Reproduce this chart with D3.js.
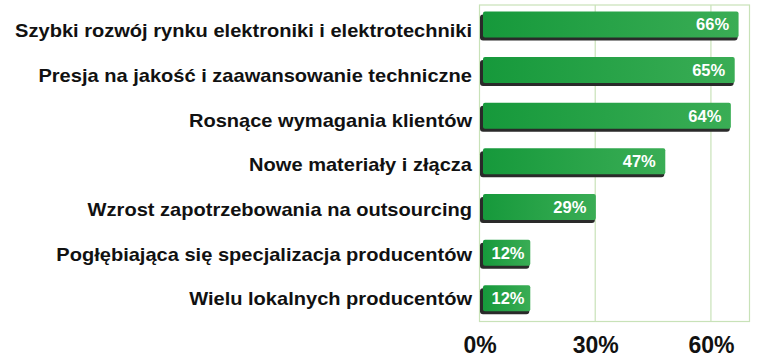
<!DOCTYPE html>
<html>
<head>
<meta charset="utf-8">
<script src="https://cdn.jsdelivr.net/npm/d3@7"></script>
<style>
  body { margin: 0; background: #fff; }
  text { font-family: Arial, "Liberation Sans", sans-serif; font-weight: bold; }
</style>
</head>
<body>
<div id="chart"></div>
<script>
const categories = [
  "Szybki rozwój rynku elektroniki i elektrotechniki",
  "Presja na jakość i zaawansowanie techniczne",
  "Rosnące wymagania klientów",
  "Nowe materiały i złącza",
  "Wzrost zapotrzebowania na outsourcing",
  "Pogłębiająca się specjalizacja producentów",
  "Wielu lokalnych producentów"
];
const values = [66, 65, 64, 47, 29, 12, 12];
const tickValues = [0, 30, 60];

const width = 764;
const height = 359;
const plot = {left: 479.5, right: 749.5, top: 5, bottom: 321.5};

const svg = d3.select("#chart")
  .append("svg")
  .attr("width", width)
  .attr("height", height);

const defs = svg.append("defs");
const grad = defs.append("linearGradient")
  .attr("id", "barGrad")
  .attr("x1", "0%").attr("x2", "100%")
  .attr("y1", "0%").attr("y2", "0%");
grad.append("stop").attr("offset", "0%").attr("stop-color", "#16993b");
grad.append("stop").attr("offset", "100%").attr("stop-color", "#3aad55");

const x = d3.scaleLinear()
  .domain([0, 70])
  .range([plot.left, plot.right]);

const y = d3.scaleBand()
  .domain(categories)
  .range([5, 317.7])
  .paddingInner(0.43)
  .paddingOuter(0.14);

const yLabel = d3.scalePoint()
  .domain(categories)
  .range([31, 299]);

// plot frame and grid
svg.append("rect")
  .attr("x", plot.left)
  .attr("y", plot.top)
  .attr("width", plot.right - plot.left)
  .attr("height", plot.bottom - plot.top)
  .attr("fill", "none")
  .attr("stroke", "#c8e2b8")
  .attr("stroke-width", 1.2);

svg.selectAll(".grid")
  .data(tickValues.slice(1))
  .enter()
  .append("line")
  .attr("class", "grid")
  .attr("x1", d => x(d))
  .attr("x2", d => x(d))
  .attr("y1", plot.top)
  .attr("y2", plot.bottom)
  .attr("stroke", "#c8e2b8")
  .attr("stroke-width", 1.2);

// x axis tick labels
const xAxis = svg.append("g")
  .attr("transform", `translate(0,${plot.bottom})`)
  .call(d3.axisBottom(x).tickValues(tickValues).tickFormat(d => d + "%").tickSize(0).tickPadding(30));
xAxis.select(".domain").remove();
xAxis.selectAll("text")
  .attr("font-size", 23)
  .attr("font-family", "Arial, 'Liberation Sans', sans-serif")
  .attr("font-weight", "bold")
  .attr("fill", "#111")
  .attr("dy", 0)
  .attr("y", 31);

// bars
const bars = svg.selectAll(".bar")
  .data(values)
  .enter()
  .append("g")
  .attr("class", "bar");

bars.append("rect")
  .attr("x", x(0) + 0.5)
  .attr("y", (d, i) => y(categories[i]) + 3)
  .attr("width", d => x(d) - x(0) + 3)
  .attr("height", y.bandwidth())
  .attr("rx", 3)
  .attr("fill", "#2a2a2a");

bars.append("rect")
  .attr("x", x(0) + 3.5)
  .attr("y", (d, i) => y(categories[i]))
  .attr("width", d => x(d) - x(0) + 1)
  .attr("height", y.bandwidth())
  .attr("rx", 2)
  .attr("fill", "url(#barGrad)");

bars.append("text")
  .attr("x", d => Math.max(x(d) - 5, x(0) + 45))
  .attr("y", (d, i) => y(categories[i]) + y.bandwidth() / 2)
  .attr("dy", "0.36em")
  .attr("text-anchor", "end")
  .attr("font-size", 16.5)
  .attr("fill", "#fff")
  .text(d => d + "%");

// category labels (source font is slightly stretched horizontally)
const catGroup = svg.append("g")
  .attr("transform", "translate(472,0) scale(1.115,1)");

catGroup.selectAll(".cat")
  .data(categories)
  .enter()
  .append("text")
  .attr("class", "cat")
  .attr("x", 0)
  .attr("y", d => yLabel(d))
  .attr("dy", "0.36em")
  .attr("text-anchor", "end")
  .attr("font-size", 18)
  .attr("fill", "#111")
  .text(d => d);
</script>
</body>
</html>
